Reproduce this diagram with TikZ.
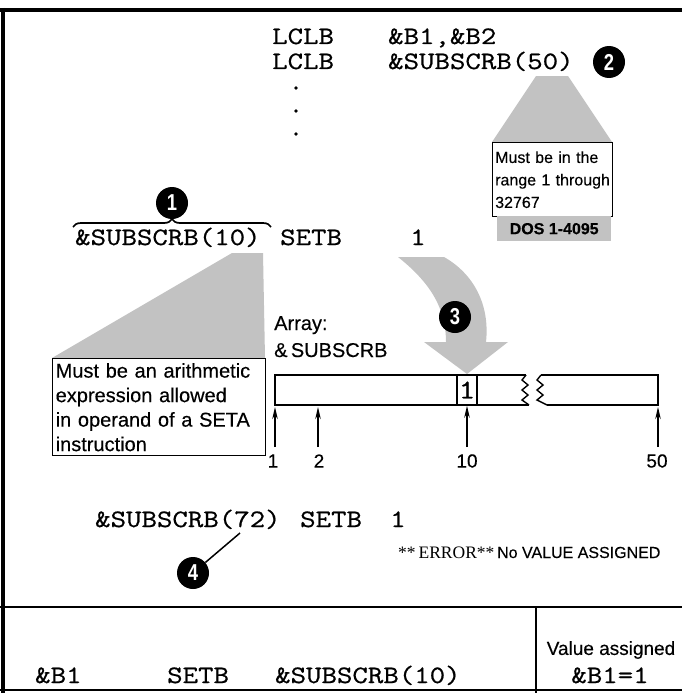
\documentclass[tikz,border=0pt]{standalone}
\usepackage{fontspec}
\setmainfont[FakeBold=0.3]{Liberation Sans}
\newfontfamily\monof[FakeStretch=1.2,FakeBold=0.7]{Latin Modern Mono}
\newfontfamily\seriff{Liberation Serif}
\newfontfamily\badgef[FakeStretch=0.8]{Liberation Sans}
\usetikzlibrary{arrows.meta,decorations.pathreplacing}
\begin{document}
\begin{tikzpicture}[x=1pt,y=-1pt,
  mono/.style={font=\monof\fontsize{25}{28}\selectfont, inner sep=0pt, anchor=base west},
  sanstext/.style={font=\fontsize{20}{22}\selectfont, inner sep=0pt, anchor=base west},
  badge/.style={circle, fill=black, text=white, font=\badgef\bfseries\fontsize{23}{23}\selectfont, minimum size=32pt, inner sep=0pt},
  halftone/.style={fill=black!24},
  notebox/.style={draw, line width=1.4pt, fill=white, align=left, anchor=north west, inner sep=3pt},
  upar/.style={-{Stealth[length=12pt,width=5.5pt]}, line width=1.4pt},
  frame/.style={line width=4.5pt},
  bar/.style={line width=1.4pt},
  numlab/.style={font=\fontsize{19}{19}\selectfont, inner sep=0pt},
]
\useasboundingbox (0,0) rectangle (682,693);
% frame
\draw[frame] (0,10) -- (682,10);
\draw[frame] (3,8) -- (3,693);
\draw[line width=2.2pt] (0,607) -- (682,607);
\draw[line width=2pt] (536,607) -- (536,693);
\draw[line width=1.2pt] (0,690) -- (682,690);

% declarations
\node[mono] (l1) at (272,44) {LCLB};
\node[mono] (o1) at (388,44) {\&B1,\&B2};
\node[mono] (l2) at (272,69) {LCLB};
\node[mono] (o2) at (388,69) {\&SUBSCRB(50)};
\node[badge] (n2) at (609,62) {2};
\fill (296,88) circle (1.8);
\fill (296,111) circle (1.8);
\fill (296,134) circle (1.8);

% note 2
\fill[halftone] (492,142) -- (536,76) -- (568,76) -- (612,142) -- cycle;
\node[notebox, text width=115pt, inner sep=2.5pt, font=\fontsize{16}{22.5}\selectfont, minimum width=120pt, minimum height=74pt] (b2) at (492,142) {Must be in the\\range 1 through\\32767};
\node[halftone, minimum width=114pt, minimum height=25pt, inner sep=0pt, anchor=north west, font=\bfseries\fontsize{16}{16}\selectfont] (dos) at (497,216) {DOS 1-4095};

% SETB line
\node[badge] (n1) at (172,203) {1};
\draw[decorate, decoration={brace, amplitude=8pt}, line width=1.7pt] (73,227) -- (271,227);
\node[mono] (s10) at (75,245) {\&SUBSCRB(10)};
\node[mono] (setb) at (280,245) {SETB};
\node[mono] (one) at (410,245) {1};

% note 1
\fill[halftone] (52,358) -- (232,253) -- (263,253) -- (265,358) -- cycle;
\node[notebox, text width=207pt, font=\fontsize{20}{24.5}\selectfont, minimum width=213pt, minimum height=97pt] (b1) at (52,358) {Must be an arithmetic\\expression allowed\\in operand of a SETA\\instruction};

% array
\node[sanstext] (arr) at (274,330) {Array:};
\node[sanstext] (arrn) at (274,357) {\&\,SUBSCRB};
\fill[halftone] (398,257) -- (444,257) .. controls (474,274) and (490,305) .. (486,342)
  -- (508,342) -- (467,374) -- (424,342) -- (446,342) .. controls (446,310) and (432,284) .. (398,257) -- cycle;
\node[badge] (n3) at (455,317) {3};

\draw[bar] (526,375) -- (275,375) -- (275,405) -- (529,405);
\draw[bar] (526,375) -- (522,380) -- (528,385) -- (522,390) -- (528,395) -- (522,400) -- (529,405);
\draw[bar] (541,375) -- (658,375) -- (658,405) -- (547,405);
\draw[bar] (541,375) -- (537,380) -- (543,385) -- (537,390) -- (543,395) -- (537,400) -- (547,405);
\node[draw, bar, minimum width=20pt, minimum height=30pt, inner sep=0pt, font=\monof\fontsize{27}{27}\selectfont] (cell) at (467,390) {1};

\coordinate (t1) at (275,447);
\coordinate (t2) at (318,447);
\coordinate (t10) at (467,447);
\coordinate (t50) at (658,447);
\draw[upar] (t1) -- (275,407);
\draw[upar] (t2) -- (318,407);
\draw[upar] (t10) -- (cell.south);
\draw[upar] (t50) -- (658,407);
\node[numlab] (k1) at (273,461) {1};
\node[numlab] (k2) at (319,461) {2};
\node[numlab] (k10) at (467,461) {10};
\node[numlab] (k50) at (657,461) {50};

% error line
\node[mono] (s72) at (95,527) {\&SUBSCRB(72)};
\node[mono] (setb2) at (300,527) {SETB};
\node[mono] (one2) at (390,527) {1};
\node[badge] (n4) at (193,573) {4};
\coordinate (c7) at (240,533);
\draw[line width=1.5pt] (c7) -- (n4);
\node[anchor=base west, inner sep=0pt, font=\fontsize{16}{16}\selectfont] (err) at (398,558) {{\seriff\fontsize{17.5}{18}\selectfont **\,ERROR**}\,No VALUE ASSIGNED};

% bottom row
\node[mono] (bb1) at (35,683) {\&B1};
\node[mono] (bset) at (167,683) {SETB};
\node[mono] (bsub) at (275,683) {\&SUBSCRB(10)};
\node[font=\fontsize{19}{19}\selectfont, inner sep=0pt] (va) at (611,650) {Value assigned};
\node[font=\monof\fontsize{25}{28}\selectfont, inner sep=0pt, anchor=base] (vb) at (610,683) {\&B1=1};
\end{tikzpicture}
\end{document}
